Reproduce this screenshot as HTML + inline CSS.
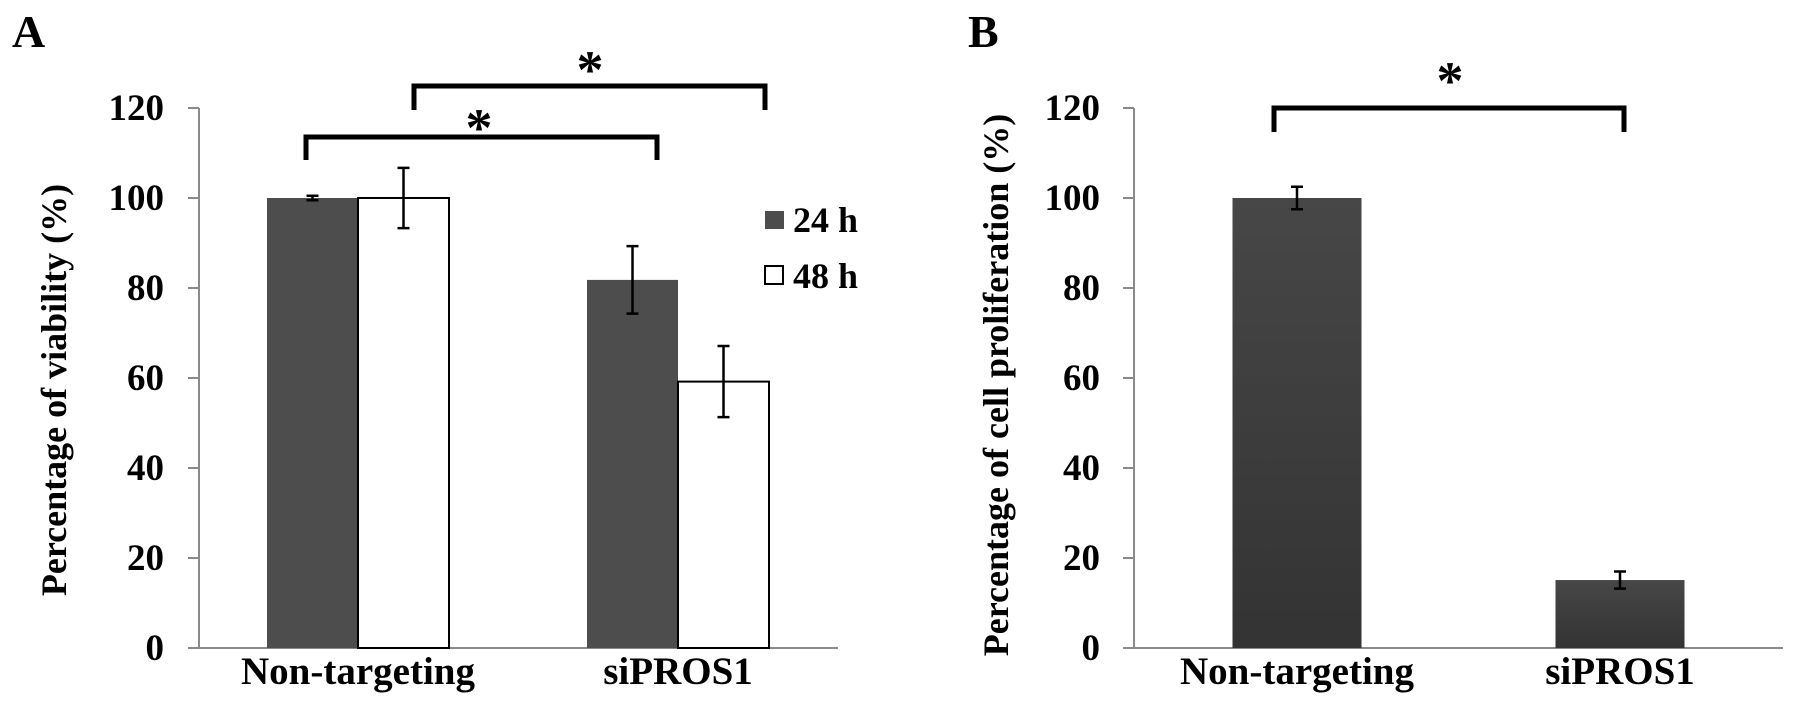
<!DOCTYPE html>
<html><head><meta charset="utf-8"><style>
html,body{margin:0;padding:0;background:#fff;}
svg{display:block;font-family:"Liberation Serif",serif;font-weight:bold;}
</style></head><body>
<svg id="chart" width="1795" height="705" viewBox="0 0 1795 705">
<defs><linearGradient id="gB" x1="0" y1="0" x2="0" y2="1"><stop offset="0" stop-color="#474747"/><stop offset="1" stop-color="#333"/></linearGradient></defs>
<g id="pA"></g>
<g id="pB"></g>
</svg>
<script>
const yTicks=[0,20,40,60,80,100,120];
const catsA=["Non-targeting","siPROS1"];
const series24=[100,81.8];
const err24=[0.5,7.5];
const series48=[100,59.2];
const err48=[6.7,7.9];
const catsB=["Non-targeting","siPROS1"];
const valsB=[100,15.1];
const errB=[2.5,1.9];
const NS="http://www.w3.org/2000/svg";
function mk(p,t,a,txt){const e=document.createElementNS(NS,t);for(const k in a)e.setAttribute(k,a[k]);if(txt!=null)e.textContent=txt;p.appendChild(e);return e;}
const y0=648,pxPer=4.5;
function Y(v){return y0-v*pxPer;}
function axes(g,ax,xEnd,labRight){
  let e=mk(g,'line',{x1:ax,y1:Y(120),x2:ax,y2:y0,stroke:'#8a8a8a','stroke-width':2});
  
  
  e=mk(g,'line',{x1:ax,y1:y0,x2:xEnd,y2:y0,stroke:'#8a8a8a','stroke-width':2});
  
  
  yTicks.forEach(t=>{
    let l=mk(g,'line',{x1:ax-11,y1:Y(t),x2:ax,y2:Y(t),stroke:'#8a8a8a','stroke-width':2});
    
    
    let tx=mk(g,'text',{x:labRight,y:Y(t)+12,'text-anchor':'end','font-size':37},String(t));
    
    
  });
}
function errbar(g,x,v,e,w){
  const p=mk(g,'path',{d:`M${x},${Y(v+e)}V${Y(v-e)}M${x-w},${Y(v+e)}H${x+w}M${x-w},${Y(v-e)}H${x+w}`,stroke:'#000','stroke-width':2.5,fill:'none'});
  
  
}
function bracket(g,x1,x2,yt,yb,ax,ay){
  const p=mk(g,'path',{d:`M${x1},${yb}V${yt}H${x2}V${yb}`,stroke:'#000','stroke-width':5,fill:'none'});
  
  
  const s=mk(g,'text',{x:ax,y:ay+26,'text-anchor':'middle','font-size':54,'font-weight':'bold'},'*');
  
  
}
// Panel A
const gA=document.getElementById('pA');
axes(gA,199,838,164);
const centersA=[358,678],bw=91;
catsA.forEach((c,i)=>{
  const cx=centersA[i];
  let r=mk(gA,'rect',{x:cx-bw,y:Y(series24[i]),width:bw,height:y0-Y(series24[i]),fill:'#4d4d4d'});
  
  
  r=mk(gA,'rect',{x:cx,y:Y(series48[i]),width:bw,height:y0-Y(series48[i]),fill:'#fff',stroke:'#000','stroke-width':2});
  
  
  errbar(gA,cx-bw/2,series24[i],err24[i],6);
  errbar(gA,cx+bw/2,series48[i],err48[i],6);
  const t=mk(gA,'text',{x:cx,y:684,'text-anchor':'middle','font-size':39},c);
  
  
});
bracket(gA,306,657,137,160,479,120);
bracket(gA,414,765,86,110,590,62);
let e=mk(gA,'rect',{x:765,y:211,width:19,height:18,fill:'#4d4d4d'});


e=mk(gA,'text',{x:793,y:232,'font-size':36},'24 h');


e=mk(gA,'rect',{x:765,y:266,width:18,height:18,fill:'#fff',stroke:'#000','stroke-width':2});


e=mk(gA,'text',{x:793,y:288,'font-size':36},'48 h');


e=mk(gA,'text',{x:0,y:0,'text-anchor':'middle','font-size':36,transform:'translate(66,390) rotate(-90)'},'Percentage of viability (%)');


e=mk(gA,'text',{x:12,y:47,'font-size':46},'A');


// Panel B
const gB=document.getElementById('pB');
axes(gB,1134,1783,1100);
const centersB=[1297,1620],bwB=129;
catsB.forEach((c,i)=>{
  const cx=centersB[i];
  let r=mk(gB,'rect',{x:cx-bwB/2,y:Y(valsB[i]),width:bwB,height:y0-Y(valsB[i]),fill:'url(#gB)'});
  
  
  errbar(gB,cx,valsB[i],errB[i],6);
  const t=mk(gB,'text',{x:cx,y:684,'text-anchor':'middle','font-size':39},c);
  
  
});
bracket(gB,1274,1624,108,132,1450,73);
e=mk(gB,'text',{x:0,y:0,'text-anchor':'middle','font-size':36,transform:'translate(1008,385) rotate(-90)'},'Percentage of cell proliferation (%)');


e=mk(gB,'text',{x:968,y:47,'font-size':46},'B');


</script>
</body></html>
